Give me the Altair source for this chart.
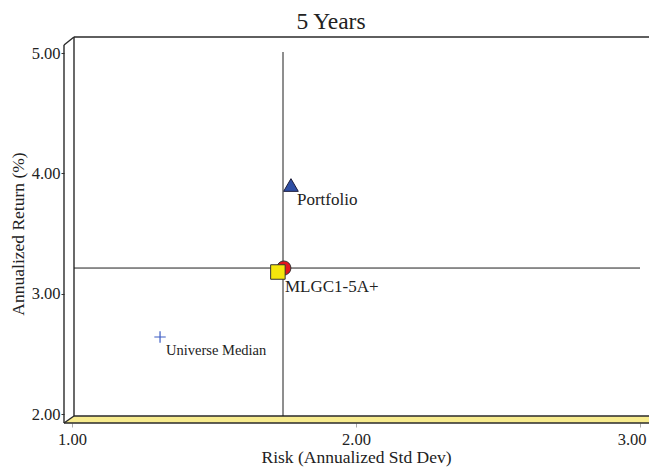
import altair as alt
import pandas as pd

# ---- data ----
names = ["Portfolio", "Benchmark", "MLGC1-5A+", "Universe Median"]
risk = [1.771, 1.746, 1.725, 1.310]
ret = [3.903, 3.213, 3.180, 2.640]
labels = ["Portfolio", "", "MLGC1-5A+", "Universe Median"]

cross_x = 1.743   # vertical reference line (risk)
cross_y = 3.213   # horizontal reference line (return)

x_ticks = [1.0, 2.0, 3.0]
y_ticks = [2.0, 3.0, 4.0, 5.0]

# ---- layout / style ----
W, H = 568, 361
PAD_L, PAD_T, PAD_R, PAD_B = 64, 45, 9, 54
XD, YD = [1.0, 3.0], [2.0, 5.0]
PX = W / (XD[1] - XD[0])
PY = H / (YD[1] - YD[0])
FONT = "Liberation Serif"
RIGHT = W + PAD_R  # right edge of the drawing, in plot pixels

def fx(px):
    return XD[0] + px / PX

def fy(py):
    return YD[1] - py / PY

pts = pd.DataFrame({"name": names, "risk": risk, "ret": ret, "label": labels})

xs = alt.Scale(domain=XD, nice=False, zero=False)
ys = alt.Scale(domain=YD, nice=False, zero=False)

xaxis = alt.Axis(values=x_ticks, format=".2f", grid=False, domain=False, offset=9,
                 labelFlush=False, tickColor="#aaaaaa", tickSize=4, labelPadding=4,
                 labelAlign={"condition": {"test": "datum.value >= 3", "value": "right"},
                             "value": "center"},
                 labelOffset={"condition": {"test": "datum.value >= 3", "value": 6},
                              "value": 0},
                 titlePadding=1,
                 labelFont=FONT, labelFontSize=16.5, labelColor="#222",
                 titleFont=FONT, titleFontSize=17.5, titleFontWeight="normal", titleColor="#222")
yaxis = alt.Axis(values=y_ticks, format=".2f", grid=False, domain=False, offset=8,
                 labelFlush=False, tickColor="#333", tickSize=3, labelPadding=1,
                 titlePadding=4,
                 labelFont=FONT, labelFontSize=16.5, labelColor="#222",
                 titleFont=FONT, titleFontSize=17.5, titleFontWeight="normal", titleColor="#222")

X = lambda f, **k: alt.X(f, type="quantitative", scale=xs, **k)
Y = lambda f, **k: alt.Y(f, type="quantitative", scale=ys, **k)

# floor (thin yellow parallelogram), cut at the drawing edge
floor = pd.DataFrame({
    "x": [fx(-8), fx(2), fx(RIGHT)],
    "y": [fy(370), fy(363), fy(363)],
    "y2": [fy(370), fy(370), fy(370)],
})
floor_layer = alt.Chart(floor).mark_area(color="#F8EC8E", clip=False).encode(
    x=X("x", axis=xaxis, title="Risk (Annualized Std Dev)"),
    y=Y("y", axis=yaxis, title="Annualized Return (%)"),
    y2="y2",
)

segs = pd.DataFrame([
    (-8, -8, -8, 370),
    (2, -16, 2, 363),
    (-8, -8, 2, -16),
    (2, -16, RIGHT, -16),
    (2, 363, RIGHT, 363),
    (-8, 370, RIGHT, 370),
    (-8, 370, 2, 363),
], columns=["a", "b", "c", "d"])
segs = pd.DataFrame({"x": segs.a.map(fx), "y": segs.b.map(fy),
                     "x2": segs.c.map(fx), "y2": segs.d.map(fy)})
frame_layer = alt.Chart(segs).mark_rule(color="#2a2a2a", strokeWidth=1.4, clip=False).encode(
    x=X("x"), y=Y("y"), x2="x2", y2="y2")

cross = pd.DataFrame({
    "x": [cross_x, fx(2)], "y": [fy(-1), cross_y],
    "x2": [cross_x, XD[1]], "y2": [fy(363), cross_y],
})
cross_layer = alt.Chart(cross).mark_rule(color="#1e1e1e", strokeWidth=1).encode(
    x=X("x"), y=Y("y"), x2="x2", y2="y2")

def pt(name, **mk):
    return alt.Chart(pts).transform_filter(alt.datum.name == name).mark_point(
        filled=True, opacity=1, clip=False, **mk).encode(x=X("risk"), y=Y("ret"))

tri = pt("Portfolio", shape="triangle-up", size=215, color="#2F4FA5", stroke="#1b1b3a", strokeWidth=1)
circ = pt("Benchmark", shape="circle", size=200, color="#E3151D", stroke="#333", strokeWidth=1)
sq = pt("MLGC1-5A+", shape="square", size=210, color="#F5E60C", stroke="#333", strokeWidth=1)
plus = alt.Chart(pts).transform_filter(alt.datum.name == "Universe Median").mark_point(
    shape="M-1,0L1,0M0,-1L0,1", size=130, filled=False, color="#3C5CC4", strokeWidth=1.2,
    opacity=1).encode(x=X("risk"), y=Y("ret"))

def lab(name, dx, dy, fs):
    return alt.Chart(pts).transform_filter(alt.datum.name == name).mark_text(
        align="left", baseline="middle", dx=dx, dy=dy, font=FONT, fontSize=fs,
        color="#222").encode(x=X("risk"), y=Y("ret"), text="label:N")

chart = alt.layer(
    floor_layer, frame_layer, cross_layer, plus, circ, sq, tri,
    lab("Portfolio", 6, 15, 17), lab("MLGC1-5A+", 7, 15, 17), lab("Universe Median", 6, 14, 14.5),
).properties(
    width=W, height=H,
    title=alt.TitleParams("5 Years", font=FONT, fontSize=23.5, fontWeight="normal",
                          color="#222", anchor="middle", dx=-25, offset=3),
    autosize=alt.AutoSizeParams(type="none"),
    padding={"left": PAD_L, "top": PAD_T, "right": PAD_R, "bottom": PAD_B},
).configure_view(stroke=None)

chart.save("out.html", embed_options={"renderer": "svg", "actions": False})
